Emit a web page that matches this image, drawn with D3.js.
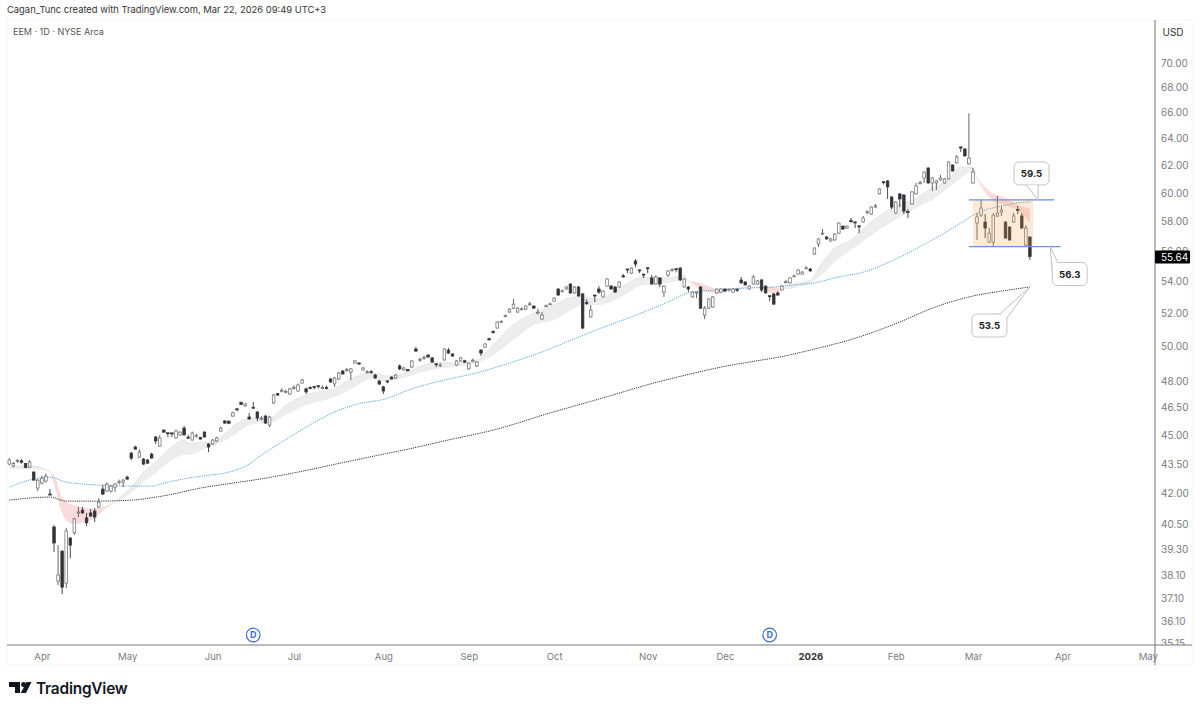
<!DOCTYPE html>
<html>
<head>
<meta charset="utf-8">
<script src="https://cdn.jsdelivr.net/npm/d3@7"></script>
<style>
html, body { margin: 0; padding: 0; background: #fff; }
svg { display: block; font-family: Inter, "Liberation Sans", sans-serif; }
</style>
</head>
<body>
<svg id="chart" width="1200" height="710"></svg>
<script>
// daily candles, bar 0 = late Mar 2025, bar 251 = 20 Mar 2026
const openPrices = [
43.49,43.39,43.62,43.66,43.52,43.33,43.08,42.27,42.52,42.62,
41.97,40.36,37.85,39.22,37.76,39.84,40.08,41.04,41.18,40.80,
41.04,41.13,41.33,42.22,42.12,42.12,42.32,42.55,42.57,42.82,
44.06,44.38,43.85,43.75,43.70,44.01,44.91,44.43,45.28,45.14,
45.13,44.86,45.02,45.39,44.90,44.75,44.96,44.88,45.17,44.54,
44.54,44.70,45.23,45.77,45.76,46.04,46.44,46.78,46.60,45.99,
46.52,46.26,45.90,46.04,45.55,46.76,47.28,47.42,47.36,47.26,
47.60,47.43,47.88,47.55,47.62,47.68,47.73,47.60,47.62,48.11,
47.83,48.11,48.57,48.60,48.51,49.03,49.03,48.63,48.50,48.53,
48.34,47.99,47.66,48.00,48.22,48.17,48.86,48.63,48.65,48.80,
49.85,49.18,49.30,49.50,49.33,48.99,48.88,49.21,49.79,49.56,
48.91,49.15,49.16,48.69,49.16,48.86,49.79,49.97,50.47,50.90,
51.11,51.46,51.82,52.09,52.33,52.09,52.25,52.27,52.56,52.46,
52.02,51.66,52.44,52.56,52.77,53.53,53.40,53.53,53.85,53.28,
53.66,53.22,52.68,51.79,53.15,53.53,53.03,53.72,53.72,53.66,
53.66,54.38,54.82,54.55,55.34,54.76,54.49,54.90,54.24,53.85,
54.24,53.34,54.43,54.73,54.84,54.88,53.66,53.66,53.03,53.30,
53.66,51.90,52.33,52.40,53.28,53.34,53.53,53.50,53.34,53.52,
54.11,53.98,53.53,53.85,53.85,54.11,53.72,53.11,53.22,53.28,
53.47,53.96,53.92,54.36,54.49,54.49,54.86,54.82,55.80,56.47,
57.14,56.94,56.67,56.74,57.20,57.68,57.55,58.06,57.97,57.70,
57.96,58.63,58.51,59.00,59.93,60.80,60.86,59.71,58.58,59.93,
59.85,58.68,59.22,59.93,60.68,61.07,61.80,60.71,60.71,60.93,
60.71,61.00,62.02,62.17,63.36,63.21,62.10,60.71,57.89,58.44,
57.96,56.60,56.60,58.38,58.65,57.96,57.62,57.96,58.82,58.38,56.40,56.94];
const highPrices = [
43.80,43.60,43.75,43.75,43.55,43.70,43.12,42.72,42.90,43.00,
42.22,40.46,39.50,39.27,40.32,39.88,40.80,41.33,41.33,41.04,
41.23,41.28,41.77,42.42,42.55,42.42,42.52,42.70,42.72,42.90,
44.12,44.45,44.27,43.80,43.75,44.08,44.96,45.02,45.32,45.14,
45.14,45.30,45.22,45.50,45.02,45.20,45.10,44.92,45.22,44.58,
44.80,44.92,45.45,45.82,45.80,46.27,46.45,46.85,46.75,46.21,
46.82,46.32,46.05,46.10,46.05,47.26,47.32,47.60,47.50,47.60,
47.75,47.85,48.12,47.62,47.70,47.70,47.75,47.75,47.74,48.17,
48.22,48.52,48.62,48.75,48.74,49.20,49.08,48.80,48.62,48.62,
48.40,48.05,47.72,48.02,48.26,48.40,48.95,48.80,48.68,49.20,
49.98,49.35,49.47,49.55,49.38,49.00,49.02,49.90,49.91,49.60,
49.20,49.38,49.22,49.06,49.30,49.14,49.84,50.20,50.52,50.98,
51.52,51.58,51.94,52.32,52.90,52.38,52.38,52.50,52.72,52.50,
52.30,52.08,52.56,52.68,53.00,53.60,53.50,53.70,53.90,53.72,
53.72,53.28,52.88,52.52,53.17,53.72,53.45,54.22,53.78,53.72,
54.03,54.50,54.84,54.92,55.47,54.77,54.50,54.92,54.43,54.42,
54.28,53.76,54.74,54.88,54.86,54.95,54.22,53.72,53.38,53.36,
53.72,52.46,52.94,53.08,53.57,53.58,53.57,53.55,53.58,53.56,
54.30,54.03,53.76,54.43,54.10,54.17,53.76,53.12,53.26,53.40,
53.78,54.12,54.28,54.46,54.80,54.68,55.00,54.88,56.24,56.85,
57.48,57.00,56.86,57.18,57.93,57.72,57.72,58.24,57.98,57.72,
58.38,58.80,59.05,59.22,60.32,60.82,60.90,59.76,59.40,59.98,
59.90,58.86,60.12,60.71,60.86,61.55,61.85,61.12,60.92,61.30,
61.05,62.28,62.06,62.76,63.40,63.26,65.95,61.80,58.58,59.50,
58.51,57.55,58.58,59.78,59.07,58.02,57.66,58.58,59.07,58.58,57.75,56.98];
const lowPrices = [
43.44,43.33,43.55,43.52,43.28,43.30,42.65,42.12,42.45,42.55,
41.92,39.18,37.67,37.27,37.54,38.90,39.98,40.84,41.00,40.41,
40.85,40.60,41.28,41.92,42.10,42.05,42.07,42.45,42.32,42.70,
43.70,44.25,43.82,43.45,43.50,43.78,44.54,44.40,45.15,44.91,
44.91,44.82,44.98,45.00,44.80,44.72,44.88,44.78,44.88,44.11,
44.50,44.65,45.20,45.62,45.60,46.00,46.30,46.65,46.55,45.85,
46.48,45.77,45.80,45.62,45.44,46.72,47.18,47.35,47.30,47.22,
47.50,47.40,47.85,47.26,47.52,47.52,47.58,47.52,47.52,47.90,
47.66,48.05,48.36,48.52,48.05,49.00,48.94,48.60,48.42,48.42,
48.13,47.78,47.26,47.87,48.08,48.12,48.62,48.60,48.55,48.76,
49.70,49.10,49.22,49.35,49.03,48.80,48.80,49.18,49.58,49.40,
48.88,49.10,49.05,48.65,49.08,48.80,49.44,49.93,50.36,50.78,
51.08,51.42,51.78,52.05,52.28,52.05,52.20,52.22,52.48,52.30,
51.95,51.60,52.40,52.52,52.74,53.10,53.34,53.50,53.25,53.24,
53.05,51.05,52.52,51.75,52.71,53.22,53.00,53.68,53.50,53.28,
53.62,54.28,54.55,54.52,54.95,54.55,54.24,54.55,53.82,53.82,
53.65,53.03,54.30,54.65,54.60,54.05,53.62,53.34,53.00,52.96,
52.28,51.66,52.30,52.36,53.24,53.30,53.38,53.36,53.30,53.34,
53.88,53.76,53.50,53.82,53.82,53.34,53.25,52.77,52.55,53.12,
53.44,53.90,53.88,54.32,54.46,54.46,54.80,54.65,55.76,56.27,
57.10,56.77,56.64,56.70,57.16,57.44,57.50,57.92,57.55,57.20,
57.92,58.50,58.47,58.96,59.90,60.60,59.57,58.86,58.54,59.00,
58.51,58.24,59.18,59.90,60.60,60.71,60.66,60.14,60.21,60.90,
60.67,60.96,61.54,62.13,62.98,62.65,62.05,60.67,56.74,58.31,
56.87,56.54,56.27,58.31,58.38,56.83,56.70,57.92,58.51,57.50,56.27,55.41];
const closePrices = [
43.70,43.52,43.67,43.58,43.31,43.60,42.67,42.67,42.77,42.87,
41.95,39.60,38.13,37.58,40.17,39.50,40.75,41.09,41.04,40.56,
40.89,40.84,41.57,41.97,42.47,42.37,42.47,42.59,42.67,42.72,
43.80,44.27,44.11,43.49,43.54,43.80,44.70,44.86,45.17,45.10,
45.10,45.23,45.17,45.02,44.87,45.12,45.00,44.80,44.91,44.38,
44.75,44.86,45.39,45.66,45.65,46.21,46.40,46.68,46.70,45.88,
46.50,45.93,45.93,45.66,45.99,47.21,47.20,47.47,47.40,47.55,
47.64,47.77,48.05,47.38,47.58,47.65,47.70,47.63,47.60,47.94,
48.17,48.46,48.40,48.66,48.69,49.15,48.97,48.74,48.53,48.50,
48.17,47.82,47.43,47.97,48.11,48.34,48.69,48.74,48.58,49.15,
49.73,49.23,49.35,49.38,49.09,48.96,48.92,49.85,49.61,49.44,
49.15,49.33,49.08,49.03,49.20,49.09,49.61,50.15,50.40,50.83,
51.48,51.50,51.86,52.27,52.58,52.33,52.29,52.46,52.60,52.33,
52.08,51.90,52.48,52.60,52.96,53.15,53.42,53.66,53.28,53.66,
53.09,51.11,52.64,52.21,53.12,53.34,53.40,54.17,53.53,53.34,
53.98,54.30,54.79,54.88,55.14,54.73,54.46,54.87,53.85,54.30,
53.85,53.72,54.69,54.77,54.81,54.11,54.17,53.53,53.34,53.34,
52.33,52.33,52.90,53.03,53.53,53.53,53.40,53.53,53.53,53.50,
53.92,53.79,53.72,54.30,54.05,53.47,53.28,53.08,52.58,53.15,
53.72,54.00,54.24,54.38,54.75,54.62,54.90,54.69,56.20,56.81,
57.20,56.81,56.81,57.14,57.89,57.48,57.68,57.98,57.94,57.66,
58.24,58.67,59.00,59.07,60.28,60.76,60.43,59.00,59.36,59.57,
58.72,58.64,60.07,60.50,60.73,61.50,60.71,61.07,60.86,61.07,
61.00,62.24,61.58,62.61,63.28,62.69,62.53,61.50,58.31,58.93,
57.55,57.20,58.44,58.58,58.79,56.87,56.74,58.38,58.76,57.55,57.55,55.64];

// fast / slow averages of the shaded band, read at these bars
const bandBars = [0,6,10,11,13,14,16,18,21,23,26,27,30,33,36,39,43,44,49,52,56,60,64,68,73,80,85,89,91,93,97,100,105,110,115,119,123,129,134,139,141,145,150,156,162,166,167,170,174,177,181,184,188,190,194,197,200,203,207,211,217,220,223,227,231,234,237,238,241,245,248,251];
const bandFast = [43.39,43.39,43.07,42.52,41.08,40.70,40.51,40.60,40.80,41.18,41.57,41.77,42.32,43.08,43.59,44.22,44.75,44.59,44.64,44.91,45.66,45.93,45.93,46.65,47.21,47.60,48.22,48.46,48.40,48.28,48.40,48.74,49.09,49.03,49.21,50.09,51.11,52.02,52.52,53.03,53.03,52.90,53.60,54.30,54.24,54.43,54.05,53.53,53.28,53.47,53.66,53.66,53.28,53.53,53.92,54.11,55.28,56.20,56.74,57.75,58.93,59.29,59.64,60.36,60.93,61.87,61.87,61.07,59.71,59.15,58.79,57.96];
const bandSlow = [43.23,43.23,43.07,42.92,41.77,41.57,41.42,41.33,41.23,41.33,41.57,41.62,42.02,42.57,43.02,43.54,43.96,43.96,44.38,44.59,45.12,45.61,45.66,46.10,46.65,47.10,47.66,48.11,48.00,48.00,48.17,48.40,48.69,48.80,49.03,49.50,50.21,51.30,51.60,52.33,52.52,52.52,52.96,53.79,53.92,54.11,54.05,53.92,53.53,53.47,53.60,53.66,53.66,53.53,53.66,53.92,54.49,55.28,56.07,56.87,57.96,58.44,58.93,59.50,60.36,61.07,61.50,61.07,60.14,59.64,59.15,58.86];

const blueBars = [0,6,10,14,22,30,35,39,47,54,59,62,67,73,80,86,92,99,107,115,123,131,140,145,153,162,167,174,182,188,194,198,203,211,219,227,234,238,244,248,251];
const blueLine = [42.32,42.72,42.82,42.57,42.42,42.37,42.37,42.57,42.87,43.08,43.49,43.96,44.64,45.44,46.26,46.72,46.96,47.55,48.05,48.46,49.03,49.68,50.57,51.05,51.79,52.71,53.28,53.47,53.60,53.66,53.82,53.92,54.24,54.69,55.60,56.74,57.89,58.58,59.07,59.29,59.36];
const blackBars = [0,10,14,22,30,39,47,55,63,71,85,91,97,109,119,133,145,151,158,167,176,182,190,197,209,219,227,236,244,251];
const blackLine = [41.67,41.82,41.62,41.62,41.67,41.92,42.27,42.52,42.77,43.08,43.70,43.96,44.22,44.80,45.28,46.21,46.98,47.38,47.85,48.37,48.84,49.09,49.41,49.79,50.57,51.48,52.33,53.03,53.40,53.66];

const priceTicks = [70,68,66,64,62,60,58,56,54,52,50,48,46.5,45,43.5,42,40.5,39.3,38.1,37.1,36.1,35.15];
const monthBars = [8,29,50,70,92,113,134,157,176,197,218,237,259,280];
const monthLabels = ["Apr","May","Jun","Jul","Aug","Sep","Oct","Nov","Dec","2026","Feb","Mar","Apr","May"];
const dividendBars = [60,187];
const lastPrice = 55.64;

// hand drawn levels and the box between them
const levelPrices = [59.5,56.3];
const levelFrom = [236,236];
const levelTo = [257,258.5];
const boxBars = [237,251.8];
const calloutLabels = ["59.5","56.3","53.5"];
const calloutBars = [253,256,251];
const calloutPrices = [59.5,56.3,53.66];

const svg = d3.select("#chart");
const x = d3.scaleLinear().domain([0,251]).range([9.3,1029.9]);
const y = d3.scaleLog().domain([70,37.1]).range([63,598]);
const axisX = 1155, axisY = 645;
const bodyW = 2.6;

// frame
svg.append("rect").attr("x",7).attr("y",20).attr("width",1185).attr("height",645)
    .attr("fill","none").attr("stroke","#f6f6f6");
svg.append("rect").attr("x",1160).attr("y",23).attr("width",28).attr("height",20)
    .attr("rx",3).attr("fill","none").attr("stroke","#f8f8f8");

svg.append("text").attr("x",7).attr("y",12.5).attr("font-size",9.4).attr("fill","#333")
    .text("Cagan_Tunc created with TradingView.com, Mar 22, 2026 09:49 UTC+3");
svg.append("text").attr("x",13).attr("y",35).attr("font-size",9).attr("fill","#555")
    .text("EEM · 1D · NYSE Arca");
svg.append("text").attr("x",1173).attr("y",36).attr("font-size",10).attr("fill","#333")
    .attr("text-anchor","middle").text("USD");

// shaded band between the two averages
const bandRows = bandBars.map(function(b,i) { return {bar:b, fast:bandFast[i], slow:bandSlow[i]}; });
const grayArea = d3.area().curve(d3.curveMonotoneX).x(d => x(d.bar)).y0(d => y(d.slow)).y1(d => y(Math.max(d.fast,d.slow)));
const redArea = d3.area().curve(d3.curveMonotoneX).x(d => x(d.bar)).y0(d => y(d.slow)).y1(d => y(Math.min(d.fast,d.slow)));
svg.append("path").datum(bandRows).attr("d",grayArea).attr("fill","#ededed");
svg.append("path").datum(bandRows).attr("d",redArea).attr("fill","#fadada");
svg.append("path").datum(bandRows)
    .attr("d",d3.line().curve(d3.curveMonotoneX).x(d => x(d.bar)).y(d => y(d.fast)))
    .attr("fill","none").attr("stroke","#e2dada").attr("stroke-width",0.6);

// averages
function dotted(bars, vals, color) {
    svg.append("path").datum(bars.map((b,i) => [b,vals[i]]))
        .attr("d",d3.line().curve(d3.curveMonotoneX).x(d => x(d[0])).y(d => y(d[1])))
        .attr("fill","none").attr("stroke",color).attr("stroke-width",1).attr("stroke-dasharray","1.2 1");
}
dotted(blueBars,blueLine,"#5aa8de");
dotted(blackBars,blackLine,"#333");

// candles
const candles = svg.append("g").selectAll("g").data(openPrices).join("g");
candles.append("line")
    .attr("x1",(d,i) => x(i)).attr("x2",(d,i) => x(i))
    .attr("y1",(d,i) => y(highPrices[i])).attr("y2",(d,i) => y(lowPrices[i]))
    .attr("stroke",(d,i) => closePrices[i] < d ? "#33333a" : "#55555a").attr("stroke-width",0.9);
candles.append("rect")
    .attr("x",(d,i) => x(i)-bodyW/2).attr("width",bodyW)
    .attr("y",(d,i) => y(Math.max(d,closePrices[i])))
    .attr("height",(d,i) => Math.max(1,y(Math.min(d,closePrices[i]))-y(Math.max(d,closePrices[i]))))
    .attr("fill",(d,i) => closePrices[i] < d ? "#33333a" : "#fff")
    .attr("stroke",(d,i) => closePrices[i] < d ? "#33333a" : "#66666a").attr("stroke-width",0.7);

// consolidation box sits on top of the candles
svg.append("rect").attr("x",x(boxBars[0])).attr("width",x(boxBars[1])-x(boxBars[0]))
    .attr("y",y(levelPrices[0])).attr("height",y(levelPrices[1])-y(levelPrices[0]))
    .attr("fill","#f7a04f").attr("fill-opacity",0.22);
svg.selectAll(".level").data(levelPrices).join("line").attr("class","level")
    .attr("x1",(d,i) => x(levelFrom[i])).attr("x2",(d,i) => x(levelTo[i]))
    .attr("y1",d => y(d)).attr("y2",d => y(d))
    .attr("stroke","#6d8fe0").attr("stroke-width",1.3);

// callouts, box offset from the tip and the two tail base points
const calloutShape = [
    {dx:-24, dy:-38, w:35, h:23, b1:[-12,-15], b2:[0,-15]},
    {dx:2, dy:16, w:35, h:23, b1:[7,15], b2:[2,25]},
    {dx:-58, dy:27, w:35, h:23, b1:[-30,27], b2:[-23,31]}
];
calloutLabels.forEach(function(label,i) {
    const tx = x(calloutBars[i]), ty = y(calloutPrices[i]), s = calloutShape[i];
    svg.append("rect").attr("x",tx+s.dx).attr("y",ty+s.dy).attr("width",s.w).attr("height",s.h)
        .attr("rx",5).attr("fill","#fff").attr("stroke","#c4c4c4");
    const tail = [[tx+s.b1[0],ty+s.b1[1]],[tx,ty],[tx+s.b2[0],ty+s.b2[1]]];
    svg.append("path").attr("d",d3.line()(tail)+"Z").attr("fill","#fff");
    svg.append("path").attr("d",d3.line()(tail)).attr("fill","none").attr("stroke","#bdbdbd");
    svg.append("text").attr("x",tx+s.dx+s.w/2).attr("y",ty+s.dy+s.h/2+3.6)
        .attr("text-anchor","middle").attr("font-size",9.6).attr("font-weight",700).attr("fill","#222")
        .text(label);
});

// price axis, bottom tick gets cut by the time scale
svg.append("clipPath").attr("id","axis-clip").append("rect")
    .attr("x",0).attr("y",20).attr("width",45).attr("height",axisY-20);
const priceAxis = svg.append("g").attr("transform","translate("+axisX+",0)").attr("clip-path","url(#axis-clip)")
    .call(d3.axisRight(y).tickValues(priceTicks).tickFormat(d3.format(".2f")).tickSize(0).tickPadding(6));
priceAxis.select(".domain").remove();
priceAxis.selectAll("text").attr("font-size",10).attr("font-family","Inter, sans-serif").attr("fill","#7b7b80");

// time axis
const timeAxis = svg.append("g").attr("transform","translate(0,"+axisY+")")
    .call(d3.axisBottom(x).tickValues(monthBars).tickFormat((d,i) => monthLabels[i]).tickSize(0).tickPadding(8));
timeAxis.select(".domain").remove();
timeAxis.selectAll("text").attr("font-size",9.6).attr("font-family","Inter, sans-serif").attr("fill","#7b7b80")
    .filter(t => t === 197).attr("font-weight",700).attr("fill","#333");

svg.append("line").attr("x1",7).attr("x2",1192).attr("y1",axisY).attr("y2",axisY).attr("stroke","#77777c");
svg.append("line").attr("x1",axisX).attr("x2",axisX).attr("y1",20).attr("y2",665).attr("stroke","#77777c");

// last price tag
svg.append("rect").attr("x",axisX).attr("y",y(lastPrice)-6).attr("width",35).attr("height",13)
    .attr("rx",1).attr("fill","#000");
svg.append("text").attr("x",axisX+6).attr("y",y(lastPrice)+4.2).attr("font-size",10).attr("fill","#fff")
    .text(lastPrice.toFixed(2));

// dividend markers
const divs = svg.selectAll(".div").data(dividendBars).join("g").attr("class","div")
    .attr("transform",d => "translate("+x(d)+",635)");
divs.append("circle").attr("r",6.8).attr("fill","#fff").attr("stroke","#3d6fd9").attr("stroke-width",1.2);
divs.append("text").attr("text-anchor","middle").attr("y",3.4).attr("font-size",9).attr("font-weight",700)
    .attr("fill","#3d6fd9").text("D");

// TradingView logo
const logo = svg.append("g").attr("fill","#131722");
logo.append("path").attr("d","M9 682H20V693H15V687H9Z");
logo.append("circle").attr("cx",23.6).attr("cy",684.5).attr("r",2.5);
logo.append("path").attr("d","M26.5 682H31.5L26 693H20.8Z");
logo.append("text").attr("x",36).attr("y",693.5).attr("font-size",15.4).attr("font-weight",600)
    .attr("letter-spacing",-0.2).text("TradingView");
</script>
</body>
</html>
